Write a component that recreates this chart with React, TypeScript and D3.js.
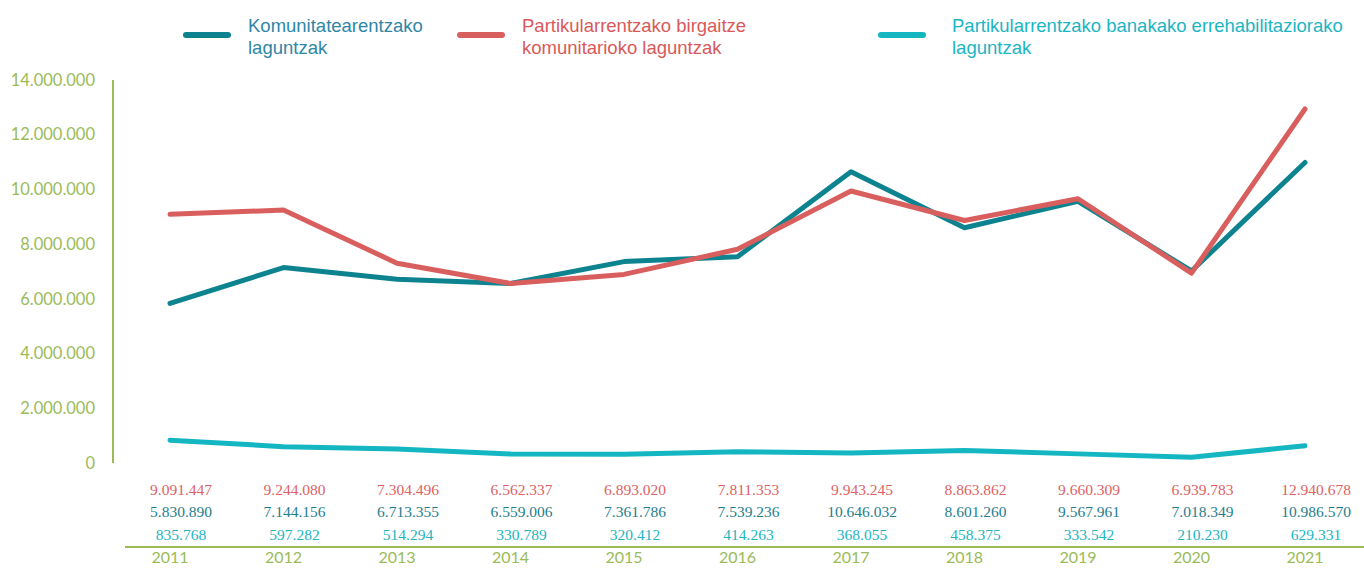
import { useEffect, useRef } from "react";
import * as d3 from "d3";

const years = ["2011", "2012", "2013", "2014", "2015", "2016", "2017", "2018", "2019", "2020", "2021"];
const komunitatea = [5830890, 7144156, 6713355, 6559006, 7361786, 7539236, 10646032, 8601260, 9567961, 7018349, 10986570];
const birgaitze = [9091447, 9244080, 7304496, 6562337, 6893020, 7811353, 9943245, 8863862, 9660309, 6939783, 12940678];
const banakako = [835768, 597282, 514294, 330789, 320412, 414263, 368055, 458375, 333542, 210230, 629331];
const yTicks = [0, 2000000, 4000000, 6000000, 8000000, 10000000, 12000000, 14000000];

const series = [
  { name: ["Komunitatearentzako", "laguntzak"], values: komunitatea, line: "#0E8390", text: "#2F86A6", table: "#1F7E8E", lx: 186, tx: 248 },
  { name: ["Partikularrentzako birgaitze", "komunitarioko laguntzak"], values: birgaitze, line: "#D85F5E", text: "#D9595A", table: "#DE6263", lx: 460, tx: 522 },
  { name: ["Partikularrentzako banakako errehabilitaziorako", "laguntzak"], values: banakako, line: "#14B6C2", text: "#1CB5C3", table: "#22B5C0", lx: 881, tx: 952 },
];

const fmt = (v: number) => d3.format(",")(v).replace(/,/g, ".");
const green = "#9BBB59";

function App() {
  const ref = useRef<SVGSVGElement>(null);
  const width = 1364;
  const height = 568;

  useEffect(() => {
    const svg = d3.select(ref.current);
    svg.selectAll("*").remove();

    const x = d3.scalePoint().domain(years).range([170, 1305]);
    const y = d3.scaleLinear().domain([0, 14000000]).range([463, 80]);

    // y axis
    svg.append("line")
      .attr("x1", 113).attr("x2", 113)
      .attr("y1", y(14000000)).attr("y2", y(0))
      .attr("stroke", green).attr("stroke-width", 2);

    svg.selectAll(".ytick")
      .data(yTicks)
      .enter()
      .append("text")
      .attr("x", 95)
      .attr("y", d => y(d))
      .attr("dy", "0.35em")
      .attr("text-anchor", "end")
      .attr("font-family", "Lato, 'Open Sans', sans-serif")
      .attr("font-size", 16.5)
      .attr("fill", green)
      .text(d => fmt(d));

    // lines
    const line = d3.line<number>()
      .x((_, i) => x(years[i]) as number)
      .y(d => y(d));

    series.forEach(s => {
      svg.append("path")
        .datum(s.values)
        .attr("d", line)
        .attr("fill", "none")
        .attr("stroke", s.line)
        .attr("stroke-width", 5)
        .attr("stroke-linecap", "round")
        .attr("stroke-linejoin", "round");
    });

    // legend
    series.forEach(s => {
      svg.append("line")
        .attr("x1", s.lx).attr("x2", s.lx + 42)
        .attr("y1", 35).attr("y2", 35)
        .attr("stroke", s.line).attr("stroke-width", 6)
        .attr("stroke-linecap", "round");
      const t = svg.append("text")
        .attr("x", s.tx)
        .attr("y", 32)
        .attr("font-family", "'Liberation Sans', Arial, sans-serif")
        .attr("font-size", 18.5)
        .attr("fill", s.text);
      s.name.forEach((n, i) => {
        t.append("tspan").attr("x", s.tx).attr("dy", i === 0 ? 0 : 21.5).text(n);
      });
    });

    // data table
    const rows = [
      { s: series[1], yy: 490 },
      { s: series[0], yy: 512 },
      { s: series[2], yy: 535 },
    ];
    rows.forEach(r => {
      svg.selectAll(null)
        .data(r.s.values)
        .enter()
        .append("text")
        .attr("x", (_, i) => (x(years[i]) as number) + 11)
        .attr("y", r.yy)
        .attr("dy", "0.35em")
        .attr("text-anchor", "middle")
        .attr("font-family", "'Liberation Serif', 'Times New Roman', serif")
        .attr("font-size", 15.5)
        .attr("fill", r.s.table)
        .text(d => fmt(d));
    });

    svg.append("line")
      .attr("x1", 125).attr("x2", width)
      .attr("y1", 547).attr("y2", 547)
      .attr("stroke", green).attr("stroke-width", 2);

    svg.selectAll(".year")
      .data(years)
      .enter()
      .append("text")
      .attr("x", d => x(d) as number)
      .attr("y", 557)
      .attr("dy", "0.35em")
      .attr("text-anchor", "middle")
      .attr("font-family", "Lato, 'Open Sans', sans-serif")
      .attr("font-size", 16)
      .attr("fill", green)
      .text(d => d);
  }, []);

  return (
    <svg
      ref={ref}
      width={width}
      height={height}
      style={{ position: "absolute", left: 0, top: 0, background: "#fff" }}
    />
  );
}

export default App;
